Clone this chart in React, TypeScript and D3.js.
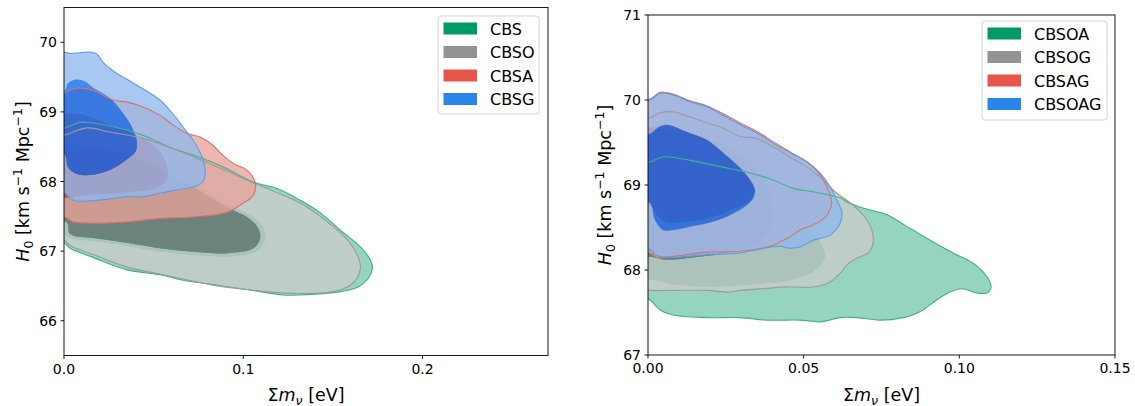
import React from 'react';
import * as d3 from 'd3';

type Pt = [number, number];

// ---- left panel contours (sum m_nu [eV], H0) ----
const cbsOuter: Pt[] = [[-0.004,68.75],[0.0006,68.77],[0.0089,68.85],[0.0162,68.84],[0.0352,68.74],[0.0464,68.64],[0.0592,68.49],[0.0721,68.38],[0.0872,68.23],[0.1056,67.99],[0.119,67.9],[0.1318,67.73],[0.143,67.55],[0.1542,67.3],[0.1654,67.06],[0.171,66.87],[0.1721,66.76],[0.1698,66.61],[0.1637,66.48],[0.1525,66.41],[0.1318,66.37],[0.1223,66.37],[0.1039,66.44],[0.0855,66.51],[0.0665,66.58],[0.0536,66.66],[0.0352,66.73],[0.0162,66.91],[0.0034,67.04],[0.0006,67.11],[-0.004,67.15]];
const cbsInner: Pt[] = [[-0.004,68.55],[0.006,68.57],[0.02,68.52],[0.037,68.42],[0.051,68.27],[0.062,68.1],[0.073,67.96],[0.085,67.78],[0.096,67.62],[0.105,67.5],[0.111,67.35],[0.1125,67.18],[0.108,67.0],[0.092,66.92],[0.072,66.94],[0.053,66.99],[0.035,67.07],[0.016,67.14],[0.006,67.17],[0.001,67.22],[-0.004,67.3]];
const cbsoOuter: Pt[] = [[-0.004,68.65],[0.0006,68.67],[0.0128,68.77],[0.0257,68.71],[0.0441,68.62],[0.0631,68.45],[0.0872,68.19],[0.1056,67.98],[0.1318,67.69],[0.1469,67.42],[0.1581,67.16],[0.1642,66.91],[0.1654,66.77],[0.1637,66.62],[0.1598,66.51],[0.1503,66.42],[0.1318,66.39],[0.1151,66.41],[0.0983,66.46],[0.0855,66.5],[0.0665,66.6],[0.0536,66.67],[0.0352,66.77],[0.0162,66.95],[0.0034,67.08],[0.0006,67.15],[-0.004,67.19]];
const cbsoInner: Pt[] = [[-0.004,68.5],[0.006,68.52],[0.02,68.47],[0.037,68.37],[0.051,68.22],[0.062,68.05],[0.072,67.92],[0.083,67.75],[0.094,67.59],[0.102,67.49],[0.1078,67.35],[0.1095,67.19],[0.1056,67.04],[0.0911,66.97],[0.0721,66.99],[0.0536,67.04],[0.0352,67.12],[0.0162,67.19],[0.0073,67.21],[0.003,67.26],[0.002,67.4],[-0.004,67.5]];
const cbsaOuter: Pt[] = [[-0.004,69.25],[0.0006,69.27],[0.0034,69.31],[0.0073,69.34],[0.0162,69.31],[0.0274,69.17],[0.0352,69.14],[0.0441,69.07],[0.0536,68.95],[0.0609,68.81],[0.0687,68.69],[0.076,68.64],[0.0832,68.52],[0.0872,68.41],[0.0944,68.26],[0.1022,68.16],[0.1067,67.98],[0.1056,67.8],[0.1,67.69],[0.0911,67.56],[0.0721,67.49],[0.0536,67.47],[0.0352,67.42],[0.0162,67.4],[0.005,67.42],[0.0006,67.49],[-0.004,67.52]];
const cbsaInner: Pt[] = [[-0.004,68.93],[0.005,68.98],[0.0162,68.92],[0.0274,68.8],[0.041,68.66],[0.0508,68.5],[0.056,68.33],[0.058,68.12],[0.0558,67.98],[0.05,67.9],[0.04,67.86],[0.025,67.83],[0.01,67.8],[-0.004,67.8]];
const cbsgOuter: Pt[] = [[-0.004,69.86],[0.0034,69.84],[0.009,69.85],[0.0145,69.86],[0.0184,69.83],[0.0218,69.71],[0.0285,69.57],[0.0352,69.47],[0.0408,69.38],[0.048,69.27],[0.0536,69.17],[0.0592,69.02],[0.0665,68.78],[0.0721,68.59],[0.0771,68.35],[0.0788,68.12],[0.0771,67.99],[0.0721,67.92],[0.0631,67.88],[0.0536,67.83],[0.0441,67.78],[0.0352,67.78],[0.0257,67.75],[0.0128,67.72],[0.005,67.73],[0.0006,67.83],[-0.004,67.88]];
const cbsgInner: Pt[] = [[-0.004,69.28],[0.0006,69.31],[0.0017,69.4],[0.0045,69.45],[0.0073,69.47],[0.0117,69.44],[0.0162,69.35],[0.0257,69.2],[0.033,68.98],[0.038,68.78],[0.0408,68.55],[0.0397,68.42],[0.0352,68.32],[0.0296,68.22],[0.0218,68.13],[0.0128,68.09],[0.0061,68.12],[0.0022,68.21],[0.0006,68.38],[-0.004,68.45]];

// ---- right panel contours ----
const cbsoaOuter: Pt[] = [[-0.004,69.25],[0.0006,69.27],[0.0048,69.33],[0.0135,69.29],[0.0241,69.21],[0.0318,69.15],[0.0402,69.06],[0.0466,68.96],[0.053,68.92],[0.0617,68.85],[0.0639,68.8],[0.069,68.73],[0.0768,68.65],[0.0832,68.51],[0.0906,68.35],[0.098,68.2],[0.1044,68.08],[0.1089,67.92],[0.1102,67.8],[0.1089,67.73],[0.1057,67.73],[0.1009,67.78],[0.097,67.74],[0.0928,67.65],[0.0874,67.51],[0.0819,67.44],[0.0745,67.41],[0.0671,67.44],[0.0617,67.44],[0.0553,67.39],[0.0488,67.41],[0.0382,67.41],[0.0296,67.44],[0.019,67.44],[0.008,67.47],[0.0039,67.53],[0.0006,67.65],[-0.004,67.72]];
const cbsoaInner: Pt[] = [[-0.004,68.9],[0.01,68.92],[0.025,68.85],[0.04,68.7],[0.05,68.52],[0.0555,68.33],[0.0569,68.15],[0.054,68.0],[0.046,67.88],[0.035,67.83],[0.019,67.8],[0.008,67.83],[0.002,67.88],[-0.004,67.9]];
const cbsogOuter: Pt[] = [[-0.004,69.77],[0.0006,69.79],[0.0039,69.85],[0.008,69.86],[0.0135,69.8],[0.019,69.73],[0.0241,69.67],[0.0296,69.57],[0.035,69.55],[0.0402,69.45],[0.0456,69.33],[0.0511,69.21],[0.0562,69.06],[0.0607,68.9],[0.0639,68.82],[0.069,68.65],[0.0719,68.47],[0.0723,68.32],[0.0707,68.2],[0.0671,68.14],[0.0639,68.06],[0.0617,67.96],[0.0585,67.86],[0.053,67.8],[0.0478,67.8],[0.0424,67.8],[0.0402,67.79],[0.0296,67.76],[0.0263,67.74],[0.019,67.76],[0.008,67.76],[0.0016,67.76],[-0.004,67.8]];
const cbsogInner: Pt[] = [[-0.004,69.62],[0.005,69.65],[0.015,69.6],[0.025,69.45],[0.033,69.25],[0.038,69.0],[0.0405,68.75],[0.0395,68.5],[0.036,68.33],[0.028,68.22],[0.015,68.15],[0.006,68.12],[0.002,68.15],[-0.004,68.2]];
const cbsagOuter: Pt[] = [[-0.004,70.0],[0.0006,70.01],[0.004,70.09],[0.008,70.07],[0.0135,69.99],[0.019,69.93],[0.0241,69.84],[0.0296,69.73],[0.035,69.63],[0.0402,69.51],[0.0456,69.39],[0.0511,69.27],[0.0553,69.12],[0.0578,68.95],[0.059,68.8],[0.0585,68.71],[0.056,68.59],[0.053,68.53],[0.0488,68.47],[0.0456,68.39],[0.0424,68.33],[0.0402,68.29],[0.0296,68.22],[0.019,68.21],[0.008,68.16],[0.0029,68.15],[0.0006,68.2],[-0.004,68.24]];
const cbsagInner: Pt[] = [[-0.004,69.6],[0.0039,69.69],[0.0061,69.71],[0.0135,69.61],[0.019,69.53],[0.0241,69.38],[0.0296,69.2],[0.0328,69.06],[0.0342,68.94],[0.033,68.83],[0.029,68.74],[0.0235,68.66],[0.018,68.6],[0.012,68.57],[0.007,68.56],[0.004,68.6],[0.001,68.75],[-0.004,68.8]];
const cbsoagOuter: Pt[] = [[-0.004,69.98],[0.0006,70.0],[0.0039,70.08],[0.008,70.06],[0.0135,69.98],[0.019,69.92],[0.0241,69.82],[0.0296,69.71],[0.035,69.61],[0.0402,69.49],[0.0456,69.38],[0.0511,69.27],[0.0553,69.14],[0.0585,68.98],[0.0607,68.82],[0.0623,68.68],[0.0617,68.55],[0.0585,68.41],[0.053,68.35],[0.0488,68.27],[0.0447,68.26],[0.0424,68.28],[0.035,68.24],[0.0296,68.2],[0.019,68.18],[0.008,68.15],[0.0029,68.17],[0.0006,68.24],[-0.004,68.28]];
const cbsoagInner: Pt[] = [[-0.004,69.58],[0.0006,69.6],[0.0039,69.69],[0.0061,69.71],[0.0135,69.61],[0.019,69.53],[0.0241,69.38],[0.0296,69.2],[0.0328,69.06],[0.0344,68.94],[0.0334,68.82],[0.0296,68.71],[0.0241,68.61],[0.019,68.55],[0.0135,68.51],[0.008,68.47],[0.0048,68.47],[0.0022,68.59],[0.0006,68.79],[-0.004,68.85]];

const leftLabels = ['CBS', 'CBSO', 'CBSA', 'CBSG'];
const rightLabels = ['CBSOA', 'CBSOG', 'CBSAG', 'CBSOAG'];
const leftOuters = [cbsOuter, cbsoOuter, cbsaOuter, cbsgOuter];
const leftInners = [cbsInner, cbsoInner, cbsaInner, cbsgInner];
const rightOuters = [cbsoaOuter, cbsogOuter, cbsagOuter, cbsoagOuter];
const rightInners = [cbsoaInner, cbsogInner, cbsagInner, cbsoagInner];

const leftXTicks = [0, 0.1, 0.2];
const leftYTicks = [66, 67, 68, 69, 70];
const rightXTicks = [0, 0.05, 0.1, 0.15];
const rightYTicks = [67, 68, 69, 70, 71];

// colours: 2-sigma band, 1-sigma band, contour edge, legend patch
const fill2 = ['#78c9ac', '#cccccc', '#e8a49b', '#90b9ee'];
const fill1 = ['#008c58', '#7a7a7a', '#e1463c', '#0a68f0'];
const edge = ['#3db38a', '#9b9b9b', '#d6736b', '#5c9be6'];
const legendFill = ['#009a66', '#939393', '#e8554a', '#2886ea'];
const FILL_ALPHA = 0.78;

const font = 'DejaVu Sans, sans-serif';

type PanelProps = {
  id: string;
  box: { left: number; right: number; top: number; bottom: number };
  xDomain: [number, number];
  yDomain: [number, number];
  xTicks: number[];
  yTicks: number[];
  xFormat: string;
  labels: string[];
  outers: Pt[][];
  inners: Pt[][];
  legend: { x: number; y: number; w: number; h: number };
  yLabelX: number;
};

function Panel(p: PanelProps) {
  const { box } = p;
  const x = d3.scaleLinear().domain(p.xDomain).range([box.left, box.right]);
  const y = d3.scaleLinear().domain(p.yDomain).range([box.bottom, box.top]);
  const line = d3.line<Pt>()
    .x(d => x(d[0]))
    .y(d => y(d[1]))
    .curve(d3.curveCatmullRomClosed.alpha(0.5));
  const fmt = d3.format(p.xFormat);
  const cx = (box.left + box.right) / 2;
  const cy = (box.top + box.bottom) / 2;
  const sub = 12.5;

  return (
    <g>
      <defs>
        <clipPath id={p.id}>
          <rect x={box.left} y={box.top} width={box.right - box.left} height={box.bottom - box.top} />
        </clipPath>
      </defs>
      <g clipPath={`url(#${p.id})`}>
        {p.outers.map((o, i) => (
          <g key={i} opacity={FILL_ALPHA}>
            <path d={(line(o) || '') + (line(p.inners[i]) || '')} fill={fill2[i]} fillRule="evenodd" />
            <path d={line(p.inners[i]) || ''} fill={fill1[i]} />
          </g>
        ))}
        {p.outers.map((o, i) => (
          <path key={'e' + i} d={line(o) || ''} fill="none" stroke={edge[i]} strokeWidth={1.1} />
        ))}
      </g>
      <rect x={box.left} y={box.top} width={box.right - box.left} height={box.bottom - box.top}
        fill="none" stroke="#000" strokeWidth={0.9} />
      {p.xTicks.map(t => (
        <g key={'x' + t}>
          <line x1={x(t)} x2={x(t)} y1={box.bottom} y2={box.bottom + 3.5} stroke="#000" strokeWidth={0.9} />
          <text x={x(t)} y={box.bottom + 18} textAnchor="middle" fontSize={14} fontFamily={font}>{fmt(t)}</text>
        </g>
      ))}
      {p.yTicks.map(t => (
        <g key={'y' + t}>
          <line x1={box.left - 3.5} x2={box.left} y1={y(t)} y2={y(t)} stroke="#000" strokeWidth={0.9} />
          <text x={box.left - 7} y={y(t) + 5} textAnchor="end" fontSize={14} fontFamily={font}>{t}</text>
        </g>
      ))}
      <text x={cx} y={401} textAnchor="middle" fontSize={17.5} fontFamily={font}>
        <tspan>Σ</tspan><tspan fontStyle="italic">m</tspan>
        <tspan fontStyle="italic" fontSize={sub} dy={3.5}>ν</tspan>
        <tspan dy={-3.5}> [eV]</tspan>
      </text>
      <text transform={`translate(${p.yLabelX},${cy}) rotate(-90)`} textAnchor="middle" fontSize={17.5} fontFamily={font}>
        <tspan fontStyle="italic">H</tspan>
        <tspan fontSize={sub} dy={3.5}>0</tspan>
        <tspan dy={-3.5}> [km s</tspan>
        <tspan fontSize={sub} dy={-7}>−1</tspan>
        <tspan dy={7}> Mpc</tspan>
        <tspan fontSize={sub} dy={-7}>−1</tspan>
        <tspan dy={7}>]</tspan>
      </text>
      <g>
        <rect x={p.legend.x} y={p.legend.y} width={p.legend.w} height={p.legend.h} rx={3}
          fill="#fff" fillOpacity={0.8} stroke="#d6d6d6" strokeWidth={1} />
        {p.labels.map((lab, i) => {
          const ry = p.legend.y + 12.5 + i * 23.5;
          return (
            <g key={lab}>
              <rect x={p.legend.x + 5.5} y={ry - 6} width={33.5} height={12} fill={legendFill[i]} />
              <text x={p.legend.x + 52} y={ry + 6} fontSize={16} fontFamily={font}>{lab}</text>
            </g>
          );
        })}
      </g>
    </g>
  );
}

export default function App() {
  return (
    <svg width={1135} height={406} style={{ position: 'absolute', left: 0, top: 0, background: '#fff' }}>
      <rect width={1135} height={406} fill="#fff" />
      <Panel
        id="clipL"
        box={{ left: 64, right: 548, top: 7.5, bottom: 355.5 }}
        xDomain={[0, 0.27]}
        yDomain={[65.5, 70.5]}
        xTicks={leftXTicks}
        yTicks={leftYTicks}
        xFormat=".1f"
        labels={leftLabels}
        outers={leftOuters}
        inners={leftInners}
        legend={{ x: 438, y: 16, w: 101, h: 98 }}
        yLabelX={29}
      />
      <Panel
        id="clipR"
        box={{ left: 648, right: 1115, top: 15, bottom: 355 }}
        xDomain={[0, 0.15]}
        yDomain={[67, 71]}
        xTicks={rightXTicks}
        yTicks={rightYTicks}
        xFormat=".2f"
        labels={rightLabels}
        outers={rightOuters}
        inners={rightInners}
        legend={{ x: 982, y: 21, w: 125, h: 99 }}
        yLabelX={611}
      />
    </svg>
  );
}
